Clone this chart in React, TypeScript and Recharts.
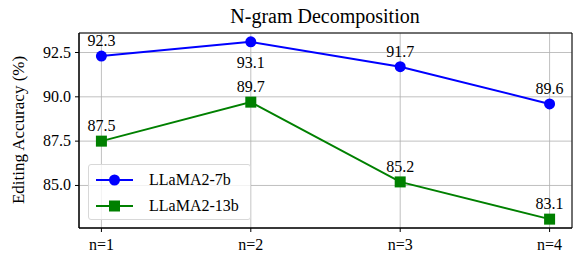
import { CartesianGrid, LabelList, Line, LineChart, ReferenceArea, XAxis, YAxis } from 'recharts'

const categories = ['n=1', 'n=2', 'n=3', 'n=4']
const llama7b = [92.3, 93.1, 91.7, 89.6]
const llama13b = [87.5, 89.7, 85.2, 83.1]
const yTicks = [85, 87.5, 90, 92.5]

const FONT = '"Liberation Serif", "Times New Roman", serif'
const BLUE = '#0000ff'
const GREEN = '#008000'

const rows = categories.map((name, i) => ({ x: i + 1, name, a: llama7b[i], b: llama13b[i] }))

// matplotlib-style 5% margins
const X_DOMAIN: [number, number] = [0.85, 4.15]
const Y_DOMAIN: [number, number] = [82.6, 93.6]

const serif = { fontFamily: FONT, fontSize: 16 }

function XTick(props: any) {
  const { x, y, payload } = props
  return (
    <text x={x} y={y + 14} textAnchor="middle" style={serif} fill="#000">
      {categories[payload.value - 1]}
    </text>
  )
}

function YTick(props: any) {
  const { x, y, payload } = props
  return (
    <text x={x} y={y + 5} textAnchor="end" style={serif} fill="#000">
      {Number(payload.value).toFixed(1)}
    </text>
  )
}

function valueLabel(below: number[]) {
  return (props: any) => {
    const { x, y, value, index } = props
    const dy = below.includes(index) ? 26 : -10
    return (
      <text x={x} y={y + dy} textAnchor="middle" style={serif} fill="#000">
        {Number(value).toFixed(1)}
      </text>
    )
  }
}

function SquareDot(props: any) {
  const { cx, cy } = props
  if (cx == null || cy == null) return null
  return <rect x={cx - 5.5} y={cy - 5.5} width={11} height={11} fill={GREEN} />
}

function LegendBox() {
  const items = [
    { name: 'LLaMA2-7b', color: BLUE, square: false },
    { name: 'LLaMA2-13b', color: GREEN, square: true },
  ]
  return (
    <div
      style={{
        position: 'absolute',
        left: 88,
        top: 164,
        width: 163,
        height: 56,
        border: '1px solid #d8d8d8',
        borderRadius: 3,
        background: 'rgba(255,255,255,0.8)',
        fontFamily: FONT,
        fontSize: 16,
        boxSizing: 'border-box',
        paddingTop: 2,
      }}
    >
      {items.map((it) => (
        <div key={it.name} style={{ display: 'flex', alignItems: 'center', height: 26 }}>
          <svg width={40} height={14} style={{ marginLeft: 6 }}>
            <line x1={1} y1={7} x2={38} y2={7} stroke={it.color} strokeWidth={2} />
            {it.square ? (
              <rect x={14} y={1.5} width={11} height={11} fill={it.color} />
            ) : (
              <circle cx={19.5} cy={7} r={5.5} fill={it.color} />
            )}
          </svg>
          <span style={{ marginLeft: 14 }}>{it.name}</span>
        </div>
      ))}
    </div>
  )
}

export default function App() {
  return (
    <div style={{ position: 'absolute', left: 0, top: 0, width: 575, height: 258, background: '#fff' }}>
      <LineChart width={575} height={258} data={rows} margin={{ top: 33, right: 3, bottom: 0, left: 0 }}>
        <text x={325} y={23} textAnchor="middle" style={{ fontFamily: FONT, fontSize: 20 }} fill="#000">
          N-gram Decomposition
        </text>
        <text
          x={20}
          y={130}
          transform="rotate(-90 20 130)"
          textAnchor="middle"
          dominantBaseline="middle"
          style={{ fontFamily: FONT, fontSize: 17 }}
          fill="#000"
        >
          Editing Accuracy (%)
        </text>
        <CartesianGrid stroke="#b0b0b0" strokeWidth={0.8} />
        <XAxis
          dataKey="x"
          type="number"
          domain={X_DOMAIN}
          ticks={[1, 2, 3, 4]}
          allowDataOverflow
          tick={<XTick />}
          tickSize={4}
          tickMargin={4}
          height={30}
          axisLine={{ stroke: '#000' }}
          tickLine={{ stroke: '#000' }}
        />
        <YAxis
          type="number"
          domain={Y_DOMAIN}
          ticks={yTicks}
          allowDataOverflow
          tick={<YTick />}
          tickSize={4}
          tickMargin={4}
          width={79}
          axisLine={{ stroke: '#000' }}
          tickLine={{ stroke: '#000' }}
        />
        <ReferenceArea
          x1={X_DOMAIN[0]}
          x2={X_DOMAIN[1]}
          y1={Y_DOMAIN[0]}
          y2={Y_DOMAIN[1]}
          fill="none"
          stroke="#000"
          strokeWidth={1}
          ifOverflow="visible"
        />
        <Line
          dataKey="a"
          name="LLaMA2-7b"
          stroke={BLUE}
          strokeWidth={2}
          dot={{ r: 5.5, fill: BLUE, stroke: BLUE, strokeWidth: 0 }}
          isAnimationActive={false}
        >
          <LabelList dataKey="a" content={valueLabel([1])} />
        </Line>
        <Line
          dataKey="b"
          name="LLaMA2-13b"
          stroke={GREEN}
          strokeWidth={2}
          dot={<SquareDot />}
          isAnimationActive={false}
        >
          <LabelList dataKey="b" content={valueLabel([])} />
        </Line>
      </LineChart>
      <LegendBox />
    </div>
  )
}
